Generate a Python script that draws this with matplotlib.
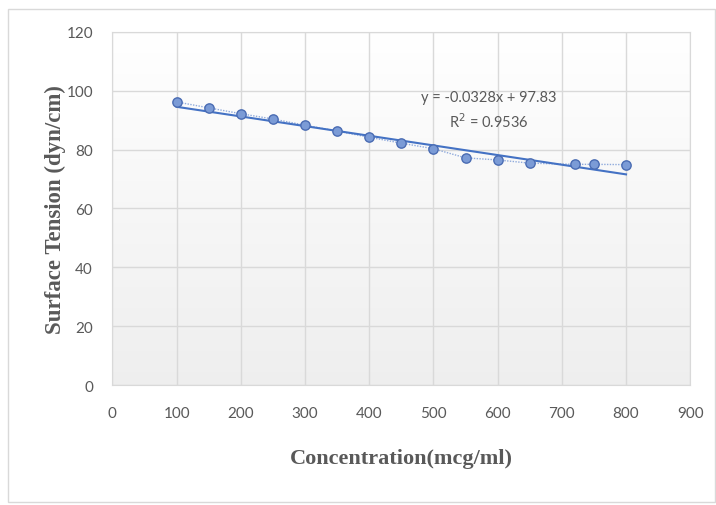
import numpy as np
import matplotlib
matplotlib.use("Agg")
import matplotlib.pyplot as plt
from matplotlib.patches import Rectangle

# ----------------------------
# Data
# ----------------------------

concentration = [100, 150, 200, 250, 300, 350, 400, 450, 500, 550, 600, 650, 720, 750, 800]
surface_tension = [96.2, 94.2, 92.2, 90.4, 88.3, 86.3, 84.2, 82.2, 80.3, 77.2, 76.5, 75.4, 75.0, 75.0, 74.9]

slope = -0.0328  # trendline from the chart label
intercept = 97.83
r_squared = 0.9536

x_ticks = [0, 100, 200, 300, 400, 500, 600, 700, 800, 900]
y_ticks = [0, 20, 40, 60, 80, 100, 120]

# ----------------------------
# Plot
# ----------------------------

fig = plt.figure(figsize=(7.16, 5.06), dpi=100)
fig.patch.set_facecolor("white")

# chart area border
fig.patches.append(Rectangle((8 / 716, 3 / 506), 707 / 716, 493 / 506, transform=fig.transFigure,
                             fill=False, edgecolor="#d9d9d9", linewidth=1))

ax = fig.add_axes([0.157, 0.237, 0.807, 0.698])

# white to light grey gradient in plot area
shade = np.linspace(1.0, 0.935, 256)
grad = np.dstack([shade, shade, shade]).reshape(256, 1, 3)
ax.imshow(grad, extent=[0, 900, 0, 120], aspect="auto", zorder=0, origin="upper")

ax.set_xlim(0, 900)
ax.set_ylim(0, 120)
ax.set_xticks(x_ticks)
ax.set_yticks(y_ticks)
ax.grid(True, color="#d9d9d9", linewidth=1, zorder=1)
ax.set_axisbelow(True)
ax.tick_params(length=0, labelsize=11, colors="#595959", pad=14)
for lab in ax.get_xticklabels() + ax.get_yticklabels():
    lab.set_family("Lato")
ax.tick_params(axis="x", pad=15)
for s in ax.spines.values():
    s.set_color("#d9d9d9")

# dotted series line and markers
ax.plot(concentration, surface_tension, linestyle=(0, (1, 1)), color="#8faadc", linewidth=1, zorder=3)
ax.scatter(concentration, surface_tension, s=45, color="#7b9bd6", edgecolor="#4a6cb3",
           linewidth=1, zorder=5)

# linear trendline
x_fit = np.array([concentration[0], concentration[-1]])
ax.plot(x_fit, slope * x_fit + intercept, color="#4472c4", linewidth=1.5, zorder=4)

ax.text(586, 98, "y = %.4fx + %.2f" % (slope, intercept), ha="center", va="center",
        fontsize=10.5, color="#595959", family="Lato")
ax.text(586, 90, "R$^2$ = %.4f" % r_squared, ha="center", va="center",
        fontsize=10.5, color="#595959", family="Lato")

ax.set_xlabel("Concentration(mcg/ml)", fontsize=16, fontweight="bold", family="Liberation Serif",
              color="#595959", labelpad=20)
ax.set_ylabel("Surface Tension (dyn/cm)", fontsize=16.5, fontweight="bold", family="Liberation Serif",
              color="#595959", labelpad=0.5)

fig.savefig("out.png", dpi=100)
